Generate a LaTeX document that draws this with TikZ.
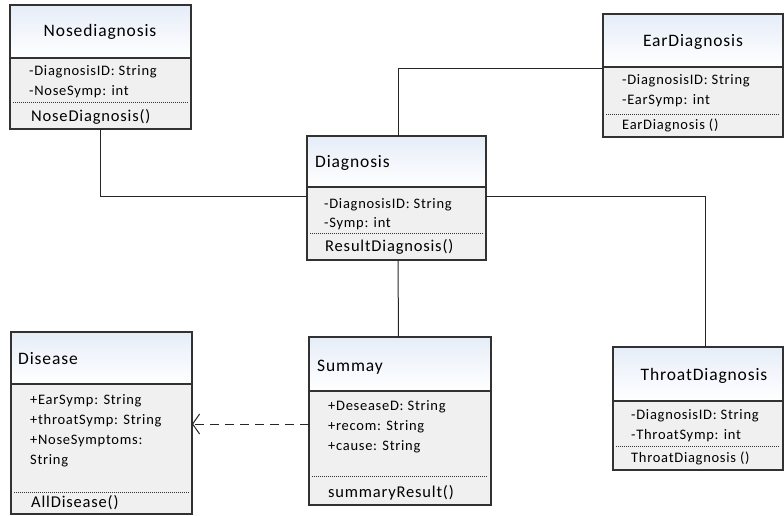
\documentclass[tikz,border=0pt]{standalone}
\usepackage{fontspec}
\setmainfont{Carlito}[LetterSpace=5]
\usetikzlibrary{calc,arrows.meta}
\definecolor{bodyfill}{RGB}{240,240,240}
\definecolor{headtop}{RGB}{230,237,248}
\definecolor{frame}{RGB}{50,50,50}
\tikzset{
  umlframe/.style={draw=frame, line width=1.2pt, rectangle, inner sep=0pt, outer sep=0pt, fill=none},
  ttl/.style={font=\fontsize{17.5}{20}\selectfont, inner sep=0pt, text=black},
  attr/.style={font=\fontsize{14.5}{17}\selectfont, inner sep=0pt, anchor=base west, text=black},
  meth/.style={font=\fontsize{16.5}{19}\selectfont, inner sep=0pt, anchor=base west, text=black},
  dotsep/.style={line width=1pt, dash pattern=on 1pt off 1pt, draw=black!80},
  conn/.style={line width=1pt, draw=black!85},
}
% name, x, y, w, h, header height, dotted-line offset
\newcommand\umlbox[7]{%
  \fill[bodyfill] (#2,#3) rectangle ++(#4,#5);
  \shade[top color=headtop, bottom color=white] (#2,#3) rectangle ++(#4,#6);
  \node[umlframe, minimum width=#4pt, minimum height=#5pt, anchor=north west] (#1) at (#2,#3) {};
  \draw[frame, line width=1.2pt] ($(#1.north west)+(0,#6)$) -- ($(#1.north east)+(0,#6)$);
  \draw[dotsep] ($(#1.north west)+(3,#7)$) -- ($(#1.north east)+(-3,#7)$);
}
\begin{document}
\begin{tikzpicture}[x=1pt,y=-1pt]
\useasboundingbox (0,0) rectangle (784,516);

% boxes
\umlbox{nose}{10}{5}{181}{124}{53}{98}
\umlbox{ear}{603}{14}{180}{123}{53}{101}
\umlbox{diag}{307}{136}{179}{124}{51}{97}
\umlbox{dis}{11}{332}{181}{182}{52}{160}
\umlbox{sum}{309}{337}{182}{168}{54}{139}
\umlbox{thr}{613}{347}{170}{123}{54}{99}

% Nosediagnosis
\node[ttl, anchor=base] (noset) at (100,37) {Nosediagnosis};
\node[attr] (nosea1) at (29,76) {-DiagnosisID: String};
\node[attr] (nosea2) at (29,96) {-NoseSymp: int};
\node[meth] (nosem) at (31,122) {NoseDiagnosis()};

% EarDiagnosis
\node[ttl, anchor=base] (eart) at (693,47) {EarDiagnosis};
\node[attr] (eara1) at (622,85) {-DiagnosisID: String};
\node[attr] (eara2) at (622,105) {-EarSymp: int};
\node[attr] (earm) at (622,129) {EarDiagnosis ()};

% Diagnosis
\node[ttl, anchor=base west] (diagt) at (315,167) {Diagnosis};
\node[attr] (diaga1) at (324,208) {-DiagnosisID: String};
\node[attr] (diaga2) at (324,227) {-Symp: int};
\node[meth] (diagm) at (325,251) {ResultDiagnosis()};

% Disease
\node[ttl, anchor=base west] (dist) at (18,364) {Disease};
\node[attr] (disa1) at (30,404) {+EarSymp: String};
\node[attr] (disa2) at (30,424) {+throatSymp: String};
\node[attr] (disa3) at (30,444) {+NoseSymptoms:};
\node[attr] (disa4) at (30,464) {String};
\node[meth] (dism) at (31,507) {AllDisease()};

% Summay
\node[ttl, anchor=base west] (sumt) at (317,371) {Summay};
\node[attr] (suma1) at (328,410) {+DeseaseD: String};
\node[attr] (suma2) at (328,430) {+recom: String};
\node[attr] (suma3) at (328,450) {+cause: String};
\node[meth] (summ) at (328,497) {summaryResult()};

% ThroatDiagnosis
\node[ttl, anchor=base] (thrt) at (704,380) {ThroatDiagnosis};
\node[attr] (thra1) at (631,419) {-DiagnosisID: String};
\node[attr] (thra2) at (631,439) {-ThroatSymp: int};
\node[attr] (thrm) at (631,462) {ThroatDiagnosis ()};

% connectors
\draw[conn] (nose.south) |- ($(diag.north west)+(0,60)$);
\draw[conn] ($(ear.north west)+(0,55)$) -| ($(diag.north)+(1.5,0)$);
\draw[conn] ($(diag.north east)+(0,60)$) -| ($(thr.north)+(7.5,0)$);
\draw[conn] ($(diag.south)+(1.5,0)$) -- ($(sum.north)+(-1.5,0)$);
\draw[conn, dash pattern=on 9pt off 6pt, -{Straight Barb[length=7pt, width=20pt, line width=1pt]}]
  ($(sum.north west)+(0,87)$) -- ($(dis.north east)+(0,92)$);
\end{tikzpicture}
\end{document}
